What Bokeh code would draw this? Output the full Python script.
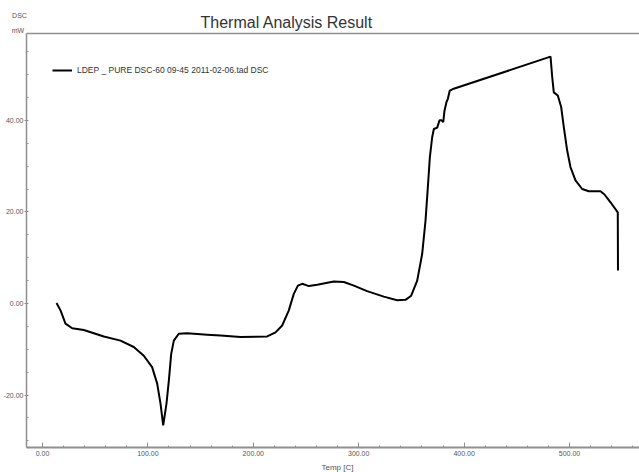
from bokeh.plotting import figure
from bokeh.models import (Range1d, FixedTicker, PrintfTickFormatter, Label,
                          Legend, LegendItem, LinearAxis)
from bokeh.embed import file_html
from bokeh.resources import INLINE

# ---- data ----
temp = [13.3, 17.1, 21.8, 28.2, 39.2, 58.2, 74.0, 86.6, 96.1, 104.0, 108.8, 112.0,
        114.5, 117.6, 119.9, 122.1, 124.6, 129.3, 137.3, 156.3, 168.9, 187.9, 213.2,
        221.1, 227.4, 233.7, 238.4, 242.3, 246.4, 252.7, 260.6, 276.4, 285.9, 295.4,
        308.0, 323.8, 336.5, 344.4, 349.8, 355.5, 360.2, 363.4, 365.6, 367.5, 369.7,
        371.3, 374.5, 376.7, 378.6, 380.2, 381.4, 383.3, 384.6, 386.4, 390.2, 482.0,
        483.6, 485.1, 488.9, 492.1, 494.6, 497.8, 500.9, 505.7, 512.0, 518.3, 529.4,
        533.2, 538.9, 545.8, 546.0]
dsc = [0.1, -1.5, -4.4, -5.4, -5.8, -7.2, -8.1, -9.5, -11.4, -13.9, -17.5, -21.9,
       -26.6, -21.9, -16.8, -11.0, -8.1, -6.6, -6.5, -6.8, -7.0, -7.3, -7.2,
       -6.3, -4.8, -1.5, 2.1, 3.9, 4.3, 3.8, 4.1, 4.8, 4.7, 3.9,
       2.7, 1.5, 0.7, 0.8, 1.7, 5.0, 10.8, 18.1, 25.4, 31.9, 36.3,
       38.1, 38.4, 40.0, 40.0, 39.6, 42.1, 44.0, 44.7, 46.5, 46.9, 53.9,
       49.4, 46.1, 45.4, 42.9, 38.5, 33.4, 29.8, 26.9, 25.0, 24.5, 24.5,
       23.8, 22.1, 19.9, 7.2]

x_ticks = [0, 100, 200, 300, 400, 500]
x_minor = [0, 20, 40, 60, 80, 120, 140, 160, 180, 220, 240, 260, 280, 320, 340, 360,
           380, 420, 440, 460, 480, 520, 540, 560]
y_ticks = [-20, 0, 20, 40]
y_minor = [-30, -25, -15, -10, -5, 5, 10, 15, 25, 30, 35, 45, 50, 55]

# axis extents (data units) of the drawn chart box
x_lo, x_hi = -15.2, 566.4
y_lo, y_hi = -31.44, 58.95

series_label = "LDEP _ PURE DSC-60 09-45 2011-02-06.tad DSC"
title_text = "Thermal Analysis Result"
x_label = "Temp [C]"
y_label_1 = "DSC"
y_label_2 = "mW"

FONT = "Liberation Sans"
GRAY = "#8f8f8f"
TXT = "#555555"

p = figure(width=639, height=472,
           x_range=Range1d(-39.85, 566.41), y_range=Range1d(-36.90, 66.16),
           x_axis_location=None, y_axis_location=None, title_location=None,
           output_backend="svg", toolbar_location=None,
           min_border_left=0, min_border_right=0, min_border_top=0, min_border_bottom=0)
p.grid.visible = False
p.outline_line_color = None

xa = LinearAxis(fixed_location=y_lo, bounds=(x_lo, x_hi),
                ticker=FixedTicker(ticks=x_ticks, minor_ticks=x_minor),
                formatter=PrintfTickFormatter(format="%.2f"),
                axis_line_color=GRAY, axis_line_width=2,
                major_tick_line_color=GRAY, minor_tick_line_color=GRAY,
                major_tick_in=5, major_tick_out=0, minor_tick_in=2, minor_tick_out=0,
                major_label_text_font=FONT, major_label_text_font_size="7px",
                major_label_text_color=TXT, major_label_standoff=4)
p.add_layout(xa, "below")

ya = LinearAxis(fixed_location=x_lo, bounds=(y_lo, y_hi),
                ticker=FixedTicker(ticks=y_ticks, minor_ticks=y_minor),
                formatter=PrintfTickFormatter(format="%.2f"),
                axis_line_color=GRAY, axis_line_width=1.5,
                major_tick_line_color=GRAY, minor_tick_line_color=GRAY,
                major_tick_in=2, major_tick_out=2, minor_tick_in=2, minor_tick_out=0,
                major_label_text_font=FONT, major_label_text_font_size="7px",
                major_label_text_color=TXT, major_label_standoff=1)
p.add_layout(ya, "left")

# plain rule along the top of the chart box (under the title)
top = LinearAxis(fixed_location=y_hi, bounds=(x_lo, x_hi),
                 ticker=FixedTicker(ticks=[], minor_ticks=[]),
                 axis_line_color=GRAY, axis_line_width=1.5,
                 major_tick_line_color=None, minor_tick_line_color=None)
p.add_layout(top, "above")

r = p.line(temp, dsc, line_color="black", line_width=2)

legend = Legend(items=[LegendItem(label=series_label, renderers=[r])],
                location=(52, 397), padding=0, margin=0, border_line_color=None,
                background_fill_alpha=0, label_text_font=FONT, label_text_font_size="8.5px",
                label_text_color="#333333", glyph_width=20, glyph_height=10,
                label_height=10, label_standoff=5)
p.add_layout(legend)

# texts positioned in screen pixels (frame covers the whole canvas, y up from bottom)
p.add_layout(Label(x=200, y=450, x_units="screen", y_units="screen", text=title_text,
                   text_font=FONT, text_font_size="16px", text_color="#333333",
                   text_align="left", text_baseline="middle"))
for txt, lx, ly in [(y_label_1, 19, 457), (y_label_2, 17.5, 442)]:
    p.add_layout(Label(x=lx, y=ly, x_units="screen", y_units="screen", text=txt,
                       text_font=FONT, text_font_size="7px", text_color=TXT,
                       text_align="center", text_baseline="middle"))
p.add_layout(Label(x=337, y=5, x_units="screen", y_units="screen", text=x_label,
                   text_font=FONT, text_font_size="8px", text_color=TXT,
                   text_align="center", text_baseline="middle"))

open("out.html", "w").write(file_html(p, INLINE))
